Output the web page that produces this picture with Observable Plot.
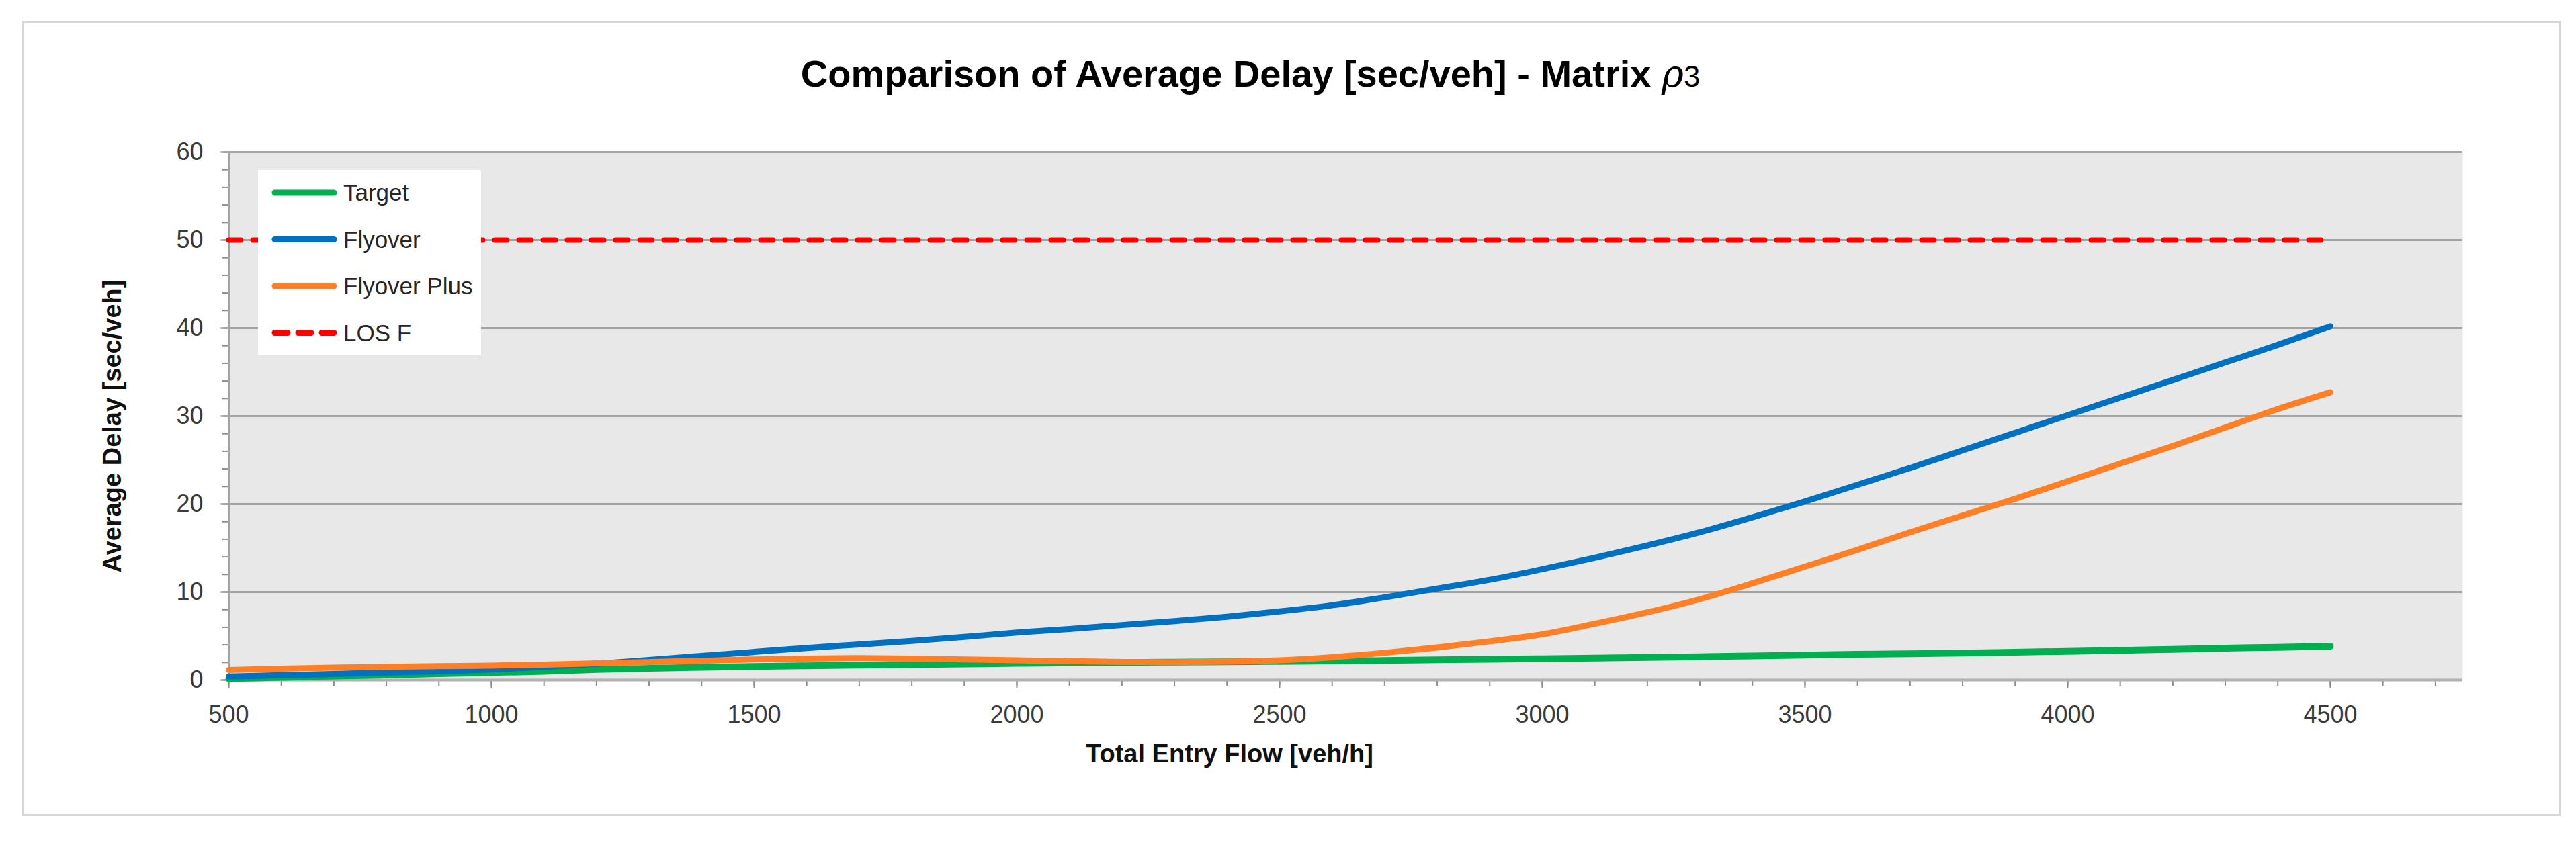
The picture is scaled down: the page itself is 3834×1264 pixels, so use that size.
<!DOCTYPE html>
<html>
<head>
<meta charset="utf-8">
<script src="https://cdn.jsdelivr.net/npm/d3@7"></script>
<script src="https://cdn.jsdelivr.net/npm/@observablehq/plot@0.6"></script>
<style>
  html, body { margin: 0; padding: 0; background: #ffffff; }
  #page { position: relative; width: 3834px; height: 1264px; overflow: hidden; background: #fff; }
  #frame { position: absolute; left: 33px; top: 31px; width: 3778px; height: 1184px; box-sizing: border-box; border: 3px solid #d6d6d6; }
  #title { position: absolute; left: 0; top: 0; width: 3722px; height: 220px; line-height: 220px; text-align: center;
           font-family: "Liberation Sans", Arial, sans-serif; font-weight: bold; font-size: 56px; color: #000; }
  #title .rho { font-family: "DejaVu Serif", serif; font-style: italic; font-weight: normal; }
  #title .sub { font-weight: normal; font-size: 0.78em; }
  #chart { position: absolute; left: 0; top: 200px; }
</style>
</head>
<body>
<div id="page">
  <div id="frame"></div>
  <div id="title">Comparison of Average Delay [sec/veh] - Matrix <span class="rho">ρ</span><span class="sub">3</span></div>
  <div id="chart"></div>
</div>
<script>
// ---- data ----
const flows = [500, 600, 700, 800, 900, 1000, 1100, 1200, 1300, 1400, 1500, 1600, 1700, 1800, 1900, 2000,
  2100, 2200, 2300, 2400, 2500, 2600, 2700, 2800, 2900, 3000, 3100, 3200, 3300, 3400, 3500,
  3600, 3700, 3800, 3900, 4000, 4100, 4200, 4300, 4400, 4500];

const target = [0.15, 0.3, 0.45, 0.58, 0.72, 0.85, 1.0, 1.2, 1.33, 1.45, 1.55, 1.63, 1.7, 1.76, 1.83, 1.9,
  1.95, 2.0, 2.04, 2.08, 2.12, 2.17, 2.23, 2.3, 2.37, 2.43, 2.5, 2.57, 2.65, 2.75, 2.85,
  2.93, 3.0, 3.08, 3.17, 3.27, 3.38, 3.5, 3.62, 3.73, 3.85];

const flyover = [0.4, 0.55, 0.7, 0.85, 1.0, 1.2, 1.5, 1.85, 2.3, 2.75, 3.2, 3.65, 4.05, 4.45, 4.9, 5.4,
  5.8, 6.25, 6.7, 7.2, 7.8, 8.5, 9.4, 10.4, 11.4, 12.6, 13.9, 15.3, 16.8, 18.5, 20.3,
  22.2, 24.1, 26.1, 28.1, 30.1, 32.1, 34.1, 36.1, 38.1, 40.2];

const flyoverPlus = [1.15, 1.3, 1.42, 1.5, 1.58, 1.65, 1.75, 1.9, 2.05, 2.2, 2.35, 2.45, 2.5, 2.45, 2.35, 2.25,
  2.15, 2.07, 2.05, 2.1, 2.25, 2.6, 3.1, 3.7, 4.4, 5.2, 6.4, 7.7, 9.2, 11.0, 12.9,
  14.8, 16.8, 18.7, 20.6, 22.6, 24.6, 26.6, 28.7, 30.8, 32.7];

const losFlows = [500, 4500];
const losF = [50, 50];

const seriesNames = ["Target", "Flyover", "Flyover Plus", "LOS F"];
const seriesColors = ["#00b050", "#0070c0", "#ff7f27", "#ff0000"];

const xMajorTicks = [500, 1000, 1500, 2000, 2500, 3000, 3500, 4000, 4500];
const xMinorTicks = [500, 600, 700, 800, 900, 1000, 1100, 1200, 1300, 1400, 1500, 1600, 1700, 1800, 1900, 2000,
  2100, 2200, 2300, 2400, 2500, 2600, 2700, 2800, 2900, 3000, 3100, 3200, 3300, 3400, 3500,
  3600, 3700, 3800, 3900, 4000, 4100, 4200, 4300, 4400, 4500, 4600, 4700];
const yMajorTicks = [0, 10, 20, 30, 40, 50, 60];
const yMinorTicks = [0, 2, 4, 6, 8, 10, 12, 14, 16, 18, 20, 22, 24, 26, 28, 30, 32, 34, 36, 38, 40,
  42, 44, 46, 48, 50, 52, 54, 56, 58, 60];

const xLabel = "Total Entry Flow [veh/h]";
const yLabel = "Average Delay [sec/veh]";

// ---- tables ----
const toRows = (ys, xs, name) => xs.map((x, i) => ({flow: x, delay: ys[i], series: name}));
const rowsTarget = toRows(target, flows, seriesNames[0]);
const rowsFlyover = toRows(flyover, flows, seriesNames[1]);
const rowsPlus = toRows(flyoverPlus, flows, seriesNames[2]);
const rowsLos = toRows(losF, losFlows, seriesNames[3]);

const styles = [
  {stroke: seriesColors[0], strokeWidth: 10, dash: null},
  {stroke: seriesColors[1], strokeWidth: 9, dash: null},
  {stroke: seriesColors[2], strokeWidth: 9, dash: null},
  {stroke: seriesColors[3], strokeWidth: 8, dash: "18,18"}
];

function legendMark(index, scales, values, dims) {
  const g = d3.create("svg:g");
  const x0 = dims.marginLeft + 44, y0 = dims.marginTop + 27;
  g.append("rect").attr("x", x0).attr("y", y0).attr("width", 332).attr("height", 276).attr("fill", "#ffffff");
  seriesNames.forEach((name, i) => {
    const y = y0 + 34 + i * 69.5;
    const s = styles[i];
    g.append("line")
      .attr("x1", x0 + 25).attr("x2", x0 + 113).attr("y1", y).attr("y2", y)
      .attr("stroke", s.stroke).attr("stroke-width", 9)
      .attr("stroke-linecap", "round")
      .attr("stroke-dasharray", s.dash ? "19,16" : null);
    g.append("text")
      .attr("x", x0 + 127).attr("y", y).attr("dy", "0.35em")
      .attr("text-anchor", "start")
      .attr("font-family", "'Liberation Sans', Arial, sans-serif")
      .attr("font-size", 35).attr("fill", "#262626")
      .text(name);
  });
  return g.node();
}

const tickStroke = "#8c8c8c";

const chart = Plot.plot({
  width: 3834,
  height: 1064,
  marginLeft: 340,
  marginRight: 169,
  marginTop: 26,
  marginBottom: 252,
  style: {fontFamily: "'Liberation Sans', Arial, sans-serif", fontSize: "36px", color: "#3a3a3a", background: "transparent", overflow: "visible"},
  x: {domain: [500, 4752]},
  y: {domain: [0, 60]},
  marks: [
    Plot.frame({fill: "#e8e8e8", stroke: null}),
    Plot.gridY({ticks: yMajorTicks.filter(d => d > 0), stroke: "#a3a3a3", strokeWidth: 3, strokeOpacity: 1}),
    Plot.axisY({ticks: yMinorTicks, tickSize: 9, tickFormat: () => "", fill: "none", stroke: tickStroke, strokeWidth: 2, label: null}),
    Plot.axisY({ticks: yMajorTicks, tickSize: 13, tickPadding: 25, stroke: tickStroke, strokeWidth: 2, fill: "#3a3a3a", label: null}),
    Plot.axisX({ticks: xMinorTicks, tickSize: 9, tickFormat: () => "", fill: "none", stroke: tickStroke, strokeWidth: 2, label: null}),
    Plot.axisX({ticks: xMajorTicks, tickSize: 13, tickPadding: 25, stroke: tickStroke, strokeWidth: 2, fill: "#3a3a3a", label: null, tickFormat: d => String(d)}),
    Plot.ruleX([500], {stroke: "#a3a3a3", strokeWidth: 3}),
    Plot.ruleY([0], {stroke: "#b0b0b0", strokeWidth: 4}),
    Plot.line(rowsTarget, {x: "flow", y: "delay", stroke: styles[0].stroke, strokeWidth: styles[0].strokeWidth, curve: "monotone-x", strokeLinecap: "round", strokeLinejoin: "round"}),
    Plot.line(rowsFlyover, {x: "flow", y: "delay", stroke: styles[1].stroke, strokeWidth: styles[1].strokeWidth, curve: "monotone-x", strokeLinecap: "round", strokeLinejoin: "round"}),
    Plot.line(rowsPlus, {x: "flow", y: "delay", stroke: styles[2].stroke, strokeWidth: styles[2].strokeWidth, curve: "monotone-x", strokeLinecap: "round", strokeLinejoin: "round"}),
    Plot.line(rowsLos, {x: "flow", y: "delay", stroke: styles[3].stroke, strokeWidth: styles[3].strokeWidth, strokeDasharray: styles[3].dash, strokeLinecap: "round"}),
    legendMark,
    Plot.text([xLabel], {text: d => d, frameAnchor: "bottom", dx: -173, dy: 110, fontSize: 38, fontWeight: "bold", fill: "#111111", textAnchor: "middle", lineAnchor: "middle"}),
    Plot.text([yLabel], {text: d => d, frameAnchor: "left", rotate: -90, dx: -173, dy: 15, fontSize: 38, fontWeight: "bold", fill: "#111111", textAnchor: "middle", lineAnchor: "middle"})
  ]
});

document.getElementById("chart").appendChild(chart);
</script>
</body>
</html>
